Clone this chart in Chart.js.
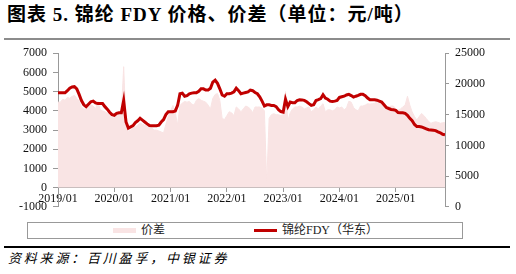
<!DOCTYPE html>
<html>
<head>
<meta charset="utf-8">
<script src="https://cdn.jsdelivr.net/npm/chart.js@4.4.1/dist/chart.umd.min.js"></script>
<style>
    html, body { margin: 0; padding: 0; background: #fff; }
    body { width: 516px; height: 274px; position: relative; overflow: hidden; font-family: "Liberation Serif", "Noto Sans CJK SC", serif; }
    #title { position: absolute; left: 7px; top: 2px; font-size: 19px; line-height: 26px; font-weight: bold; letter-spacing: 1px; color: #000; white-space: nowrap; }
    .rule-top { position: absolute; left: 4px; top: 38px; width: 506px; height: 2px; background: #8c8c8c; }
    #wrap { position: absolute; left: 0; top: 40px; width: 516px; height: 180px; }
    #legend { position: absolute; left: 27px; top: 222px; width: 434px; height: 15px; border: 1px solid #999; font-size: 12px; color: #222; }
    #legend .sw { position: absolute; top: 5px; width: 23px; height: 5px; }
    #legend .tx { position: absolute; top: 0; line-height: 15px; white-space: nowrap; }
    .rule-bottom { position: absolute; left: 4px; top: 246px; width: 506px; height: 2px; background: #000; }
    #source { position: absolute; left: 8px; top: 251px; font-size: 13px; line-height: 16px; font-style: italic; letter-spacing: 2.8px; color: #000; white-space: nowrap; }
</style>
</head>
<body>
<div id="title">图表 5. 锦纶 FDY 价格、价差（单位：元/吨）</div>
<div class="rule-top"></div>
<div id="wrap"><canvas id="c"></canvas></div>
<div id="legend">
    <div class="sw" style="left:85px;background:#f9e4e4;"></div>
    <div class="tx" style="left:113px;">价差</div>
    <div class="sw" style="left:226px;top:6px;height:3px;background:#c00000;"></div>
    <div class="tx" style="left:254px;">锦纶FDY（华东）</div>
</div>
<div class="rule-bottom"></div>
<div id="source">资料来源：百川盈孚，中银证券</div>
<script>
// x axis tick labels, one per January (12 months apart)
const yearLabels = ['2019/01', '2020/01', '2021/01', '2022/01', '2023/01', '2024/01', '2025/01'];

// price spread (left axis), half-month samples from 2019/01
const spreadSeries = [
    4450, 4450, 4600, 4550, 4700, 4650, 4750, 4800, 4650, 4500,
    4200, 4100, 4050, 4150, 4300, 4250, 4100, 4500, 4050, 4000,
    3950, 3870, 3750, 3650, 3620, 3800, 3800, 3850, 6300, 3300,
    2920, 3000, 3100, 3150, 3250, 3370, 3300, 3250, 3200, 3150,
    3100, 3000, 3000, 2950, 2900, 2850, 3300, 3700, 4000, 4280,
    3900, 3260, 4280, 4400, 4490, 4450, 4490, 4350, 4300, 4550,
    4640, 4550, 4500, 4450, 4300, 4100, 4650, 4850, 4900, 4550,
    3600, 3550, 3750, 3950, 3900, 3750, 4200, 4100, 3950, 4100,
    4250, 4200, 4100, 3900, 4200, 4200, 4200, 4150, 4000, 200,
    3600, 3800, 3850, 3800, 3800, 3750, 3800, 5000, 3500, 3900,
    4100, 4200, 4200, 4250, 4200, 4100, 4150, 4200, 3950, 4050,
    4200, 4100, 4250, 4370, 3950, 4050, 4050, 4000, 4050, 4200,
    4150, 4200, 4050, 4150, 4500, 4450, 4180, 4050, 4000, 4250,
    4250, 4300, 4370, 4350, 4370, 4400, 4450, 4400, 4400, 4300,
    4180, 4200, 4250, 4250, 4100, 4030, 4100, 4200, 4300, 4760,
    4300, 3940, 3700, 3520, 3700, 3860, 3750, 3600, 3450, 3350,
    3400, 3430, 3400, 3350, 3380, 3380
];

// FDY price, East China (right axis), same half-month samples
const fdyPrice = [
    18550, 18550, 18550, 18550, 18900, 19300, 19500, 19550, 19200, 18300,
    17300, 16600, 16300, 16700, 17100, 17200, 16900, 16800, 16800, 16800,
    16300, 15900, 15400, 15000, 14900, 15200, 15300, 15300, 17300, 13800,
    12800, 13000, 13200, 13700, 14000, 14400, 14100, 13800, 13500, 13220,
    13200, 13200, 13200, 13300, 13800, 14200, 15000, 15460, 15460, 15460,
    15600, 16500, 18400, 18500, 18000, 18100, 18400, 18500, 18550, 18550,
    18800, 19200, 19200, 19000, 19000, 19300, 20300, 20600, 20100, 19200,
    18200, 18000, 18400, 18400, 18500, 18700, 19300, 18900, 18400, 18500,
    18600, 18700, 19000, 18900, 18600, 18400, 17900, 17200, 16400, 16600,
    16600, 16500, 16500, 16300, 15800, 15500, 15400, 17500, 16300, 17050,
    16950, 16950, 17300, 17430, 17400, 17320, 17100, 16800, 16500, 16600,
    17300, 17430, 17600, 18250, 17700, 17500, 17200, 17150, 17200, 17300,
    17800, 17900, 18000, 18200, 18300, 18100, 17850, 18000, 18120, 18300,
    18300, 18100, 17700, 17430, 17430, 17430, 17350, 17200, 17050, 16600,
    16160, 16000, 15850, 15800, 15700, 15350, 15300, 15300, 15200, 14900,
    14400, 14000, 13400, 13060, 13060, 13000, 12850, 12700, 12550, 12500,
    12450, 12400, 12200, 12050, 11800, 11700
];

const leftTicks = { min: -1000, max: 7000, step: 1000 };
const rightTicks = { min: 0, max: 25000, step: 5000 };

// samples are half a month apart, x is in months from 2019/01
const toPoints = arr => arr.map((v, i) => ({ x: i / 2, y: v }));
const plain = v => String(v);

Chart.defaults.font.family = '"Liberation Serif", "Times New Roman", serif';
Chart.defaults.font.size = 12;
Chart.defaults.color = '#111';

const axisGray = '#999';

new Chart(document.getElementById('c'), {
    type: 'line',
    data: {
        datasets: [
            {
                label: '锦纶FDY（华东）', data: toPoints(fdyPrice), yAxisID: 'y2',
                borderColor: '#c00000', borderWidth: 3, pointRadius: 0, tension: 0, fill: false
            },
            {
                label: '价差', data: toPoints(spreadSeries), yAxisID: 'y',
                borderColor: '#f9e4e4', backgroundColor: '#f9e4e4', borderWidth: 1,
                pointRadius: 0, tension: 0, fill: 'origin'
            }
        ]
    },
    options: {
        responsive: true, maintainAspectRatio: false, animation: false,
        layout: { padding: { top: 12, bottom: 11, left: 0, right: 0 } },
        plugins: { legend: { display: false }, tooltip: { enabled: false } },
        scales: {
            x: {
                type: 'linear', position: { y: 0 }, min: 0, max: (fdyPrice.length - 1) / 2,
                grid: { drawOnChartArea: false, tickLength: 4, color: axisGray },
                border: { display: true, color: axisGray },
                ticks: {
                    stepSize: 12, includeBounds: false, padding: 0, maxRotation: 0, autoSkip: false,
                    callback: v => yearLabels[v / 12] || ''
                }
            },
            y: {
                position: 'left', min: leftTicks.min, max: leftTicks.max,
                grid: { drawOnChartArea: false, tickLength: 5, color: axisGray },
                border: { display: true, color: axisGray },
                ticks: { stepSize: leftTicks.step, padding: 6, callback: plain },
                afterFit: s => { s.width = 58; }
            },
            y2: {
                position: 'right', min: rightTicks.min, max: rightTicks.max,
                grid: { drawOnChartArea: false, tickLength: 4, color: axisGray },
                border: { display: true, color: axisGray },
                ticks: { stepSize: rightTicks.step, padding: 6, callback: plain },
                afterFit: s => { s.width = 71; }
            }
        }
    }
});
</script>
</body>
</html>
